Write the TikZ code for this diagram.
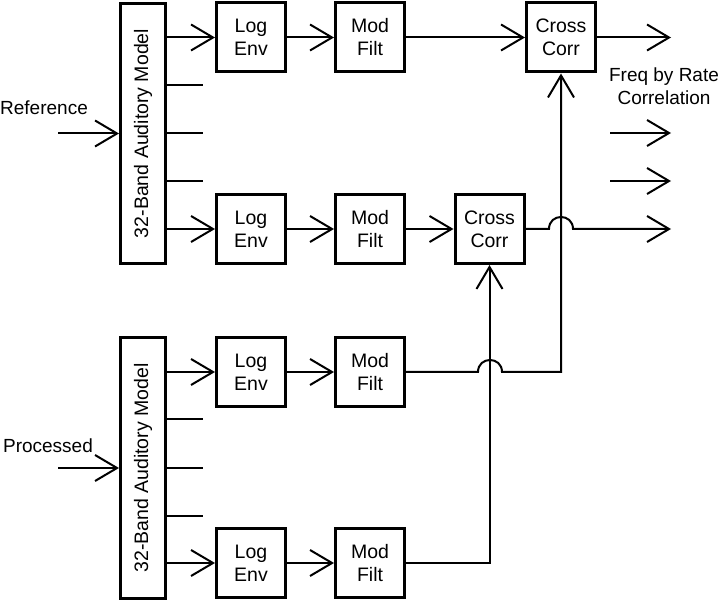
\documentclass[tikz,border=0pt]{standalone}
\usepackage{fontspec}
\setmainfont{Liberation Sans}
\usetikzlibrary{arrows.meta}
\begin{document}
\begin{tikzpicture}[x=1pt,y=-1pt,
  txt/.style={font=\fontsize{19.5}{23}\selectfont},
  blk/.style={draw,line width=3pt,minimum width=69pt,minimum height=69pt,inner sep=0pt,align=center,txt},
  aud/.style={draw,line width=3pt,minimum width=45pt,minimum height=260pt,inner sep=0pt},
  conn/.style={line width=2pt},
  arr/.style={conn,-{Straight Barb[length=22pt,width=26pt,line width=2pt]}},
  lbl/.style={font=\fontsize{19}{23}\selectfont,inner sep=0pt,align=center}]
\useasboundingbox (0,0) rectangle (720,601);
% auditory model boxes
\node[aud] (aud1) at (143,133.5) {};
\node[txt,rotate=90,inner sep=0pt] (aud1t) at (aud1.center) {32-Band Auditory Model};
\node[aud] (aud2) at (143,468) {};
\node[txt,rotate=90,inner sep=0pt] (aud2t) at (aud2.center) {32-Band Auditory Model};
% blocks
\node[blk] (le1) at (251,37.5) {Log\\Env};
\node[blk] (le2) at (251,229) {Log\\Env};
\node[blk] (le3) at (251,372) {Log\\Env};
\node[blk] (le4) at (251,563) {Log\\Env};
\node[blk] (mf1) at (370,37.5) {Mod\\Filt};
\node[blk] (mf2) at (370,229) {Mod\\Filt};
\node[blk] (mf3) at (370,372) {Mod\\Filt};
\node[blk] (mf4) at (370,563) {Mod\\Filt};
\node[blk] (cc1) at (561,37.5) {Cross\\Corr};
\node[blk] (cc2) at (489.5,229) {Cross\\Corr};
% labels
\node[lbl] (ref) at (44,108) {Reference};
\node[lbl] (proc) at (48,446) {Processed};
\node[lbl] (frc) at (664,86.5) {Freq by Rate\\Correlation};
% inputs
\coordinate (in1) at (58,133.5);
\coordinate (in2) at (58,468);
\draw[arr] (in1) -- (aud1.west);
\draw[arr] (in2) -- (aud2.west);
% band ticks
\foreach \y [count=\i] in {85,133,181,419,468,516}{
  \coordinate (ts\i) at (166,\y);
  \coordinate (te\i) at (203,\y);
  \draw[conn] (ts\i) -- (te\i);
}
% chain arrows
\draw[arr] (aud1.east |- le1) -- (le1.west);
\draw[arr] (aud1.east |- le2) -- (le2.west);
\draw[arr] (aud2.east |- le3) -- (le3.west);
\draw[arr] (aud2.east |- le4) -- (le4.west);
\draw[arr] (le1) -- (mf1);
\draw[arr] (le2) -- (mf2);
\draw[arr] (le3) -- (mf3);
\draw[arr] (le4) -- (mf4);
\draw[arr] (mf1) -- (cc1);
\draw[arr] (mf2) -- (cc2);
% outputs
\coordinate (o1) at (671,37.5);
\coordinate (o2s) at (610,133);
\coordinate (o2) at (671,133);
\coordinate (o3s) at (610,181);
\coordinate (o3) at (671,181);
\coordinate (o4) at (671,229);
\draw[arr] (cc1) -- (o1);
\draw[arr] (o2s) -- (o2);
\draw[arr] (o3s) -- (o3);
\draw[arr] (cc2.east) -- (549,229) .. controls (549,213) and (573,213) .. (573,229) -- (o4);
% vertical feeds
\coordinate (j3) at (cc1.south |- mf3);
\draw[arr] (mf3.east) -- (478,372) .. controls (478,356) and (502,356) .. (502,372) -- (j3) -- (cc1.south);
\coordinate (j4) at (cc2.south |- mf4);
\draw[arr] (mf4.east) -- (j4) -- (cc2.south);
\end{tikzpicture}
\end{document}
